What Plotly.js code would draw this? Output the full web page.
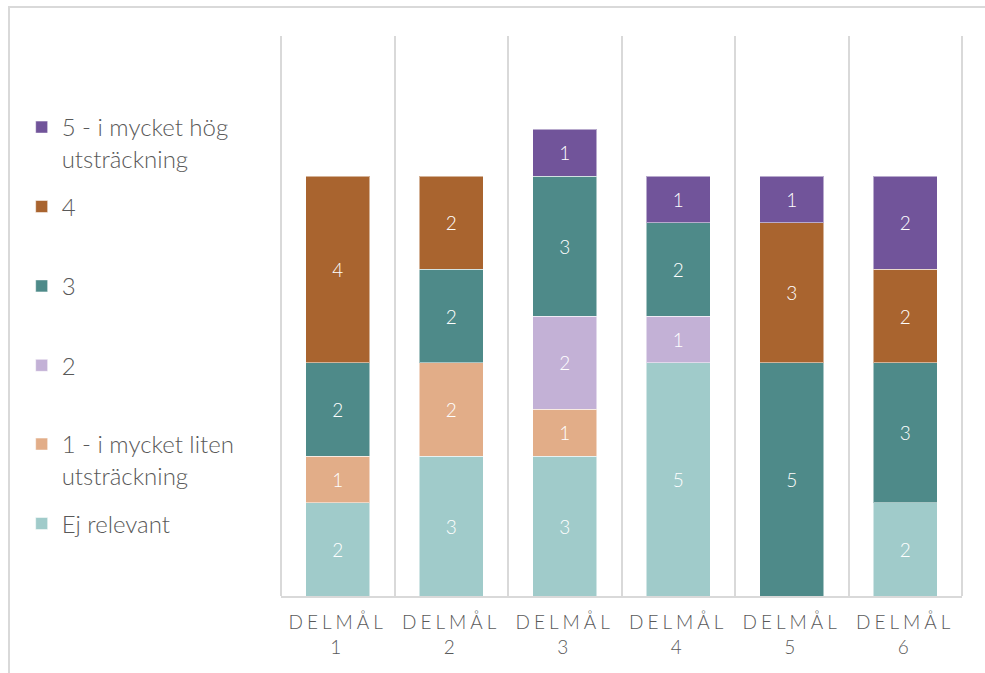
<!DOCTYPE html>
<html>
<head>
<meta charset="utf-8">
<script src="https://cdn.plot.ly/plotly-3.0.1.min.js"></script>
<style>
html,body{margin:0;padding:0;background:#fff;}
#wrap{position:relative;width:985px;height:673px;overflow:hidden;}
#chart{position:absolute;left:0;top:0;width:985px;height:673px;}
#frame{position:absolute;left:8px;top:6px;width:1000px;height:700px;border-top:2px solid #d9d9d9;border-left:2px solid #d9d9d9;pointer-events:none;}
.xtick text{letter-spacing:4px;}
</style>
</head>
<body>
<div id="wrap"><div id="chart"></div><div id="frame"></div></div>
<script>
const categories = ["DELMÅL<br>1","DELMÅL<br>2","DELMÅL<br>3","DELMÅL<br>4","DELMÅL<br>5","DELMÅL<br>6"];
const seriesNames = ["Ej relevant","1 - i mycket liten<br>utsträckning","2","3","4","5 - i mycket hög<br>utsträckning"];
const ejRelevant = [2, 3, 3, 5, null, 2];
const level1 = [1, 2, 1, null, null, null];
const level2 = [null, null, 2, 1, null, null];
const level3 = [2, 2, 3, 2, 5, 3];
const level4 = [4, 2, null, null, 3, 2];
const level5 = [null, null, 1, 1, 1, 2];
const seriesValues = [ejRelevant, level1, level2, level3, level4, level5];
const colors = ["#a0cbca","#e2ad88","#c3b1d6","#4e8a89","#a9642f","#71549a"];
// legend vertical positions (container fraction), bottom series first
const legendY = [0.255, 0.373, 0.49, 0.608, 0.726, 0.844];

const traces = seriesNames.map((name, i) => ({
  type: "bar",
  name: name,
  x: categories,
  y: seriesValues[i],
  marker: {color: colors[i], line: {color: "rgba(255,255,255,0.5)", width: 1}},
  text: seriesValues[i].map(v => v === null ? "" : String(v)),
  textposition: "inside",
  insidetextanchor: "middle",
  textangle: 0,
  constraintext: "none",
  textfont: {color: "#ffffff", size: 19, family: "Lato, sans-serif", weight: 300},
  hoverinfo: "skip",
  legend: i === 0 ? "legend" : "legend" + (i + 1)
}));

const layout = {
  width: 985, height: 673,
  margin: {l: 281, r: 23, t: 36, b: 77},
  paper_bgcolor: "#ffffff", plot_bgcolor: "#ffffff",
  barmode: "stack",
  bargap: 0.44,
  showlegend: true,
  font: {family: "Lato, sans-serif", color: "#595959"},
  xaxis: {
    type: "category",
    tickson: "boundaries",
    showgrid: true, gridcolor: "#d9d9d9", gridwidth: 2,
    showline: true, linecolor: "#d9d9d9", linewidth: 2,
    ticks: "", ticklabelstandoff: 8,
    tickfont: {size: 19, color: "#595959", family: "Lato, sans-serif", weight: 300},
    zeroline: false, fixedrange: true
  },
  yaxis: {
    range: [0, 12], visible: false, showgrid: false, zeroline: false, fixedrange: true
  },
  shapes: [
    {type: "line", xref: "paper", yref: "paper", x0: 0, x1: 0, y0: 0, y1: 1, line: {color: "#d9d9d9", width: 2}, layer: "below"},
    {type: "line", xref: "paper", yref: "paper", x0: 1, x1: 1, y0: 0, y1: 1, line: {color: "#d9d9d9", width: 2}, layer: "below"}
  ]
};
seriesNames.forEach((n, i) => {
  const key = i === 0 ? "legend" : "legend" + (i + 1);
  layout[key] = {
    xref: "container", yref: "container",
    x: 0.022, y: legendY[i], xanchor: "left", yanchor: "top",
    valign: "top",
    bgcolor: "rgba(0,0,0,0)", borderwidth: 0,
    font: {size: 24, color: "#595959", family: "Lato, sans-serif", weight: 300},
    itemwidth: 30
  };
});

Plotly.newPlot("chart", traces, layout, {displayModeBar: false, staticPlot: true});
</script>
</body>
</html>
